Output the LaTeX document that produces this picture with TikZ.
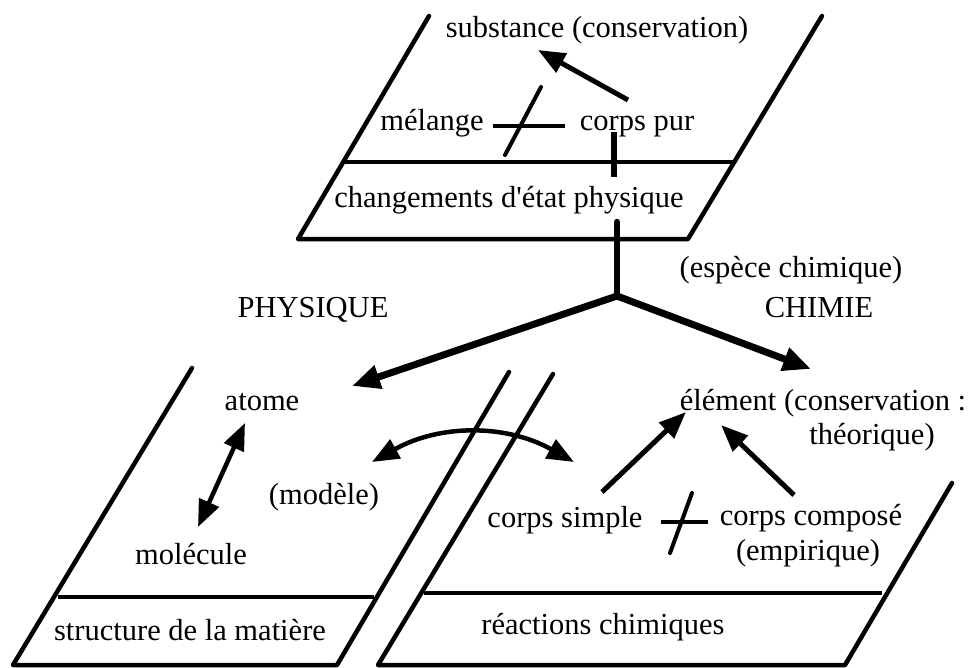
\documentclass[tikz,border=0pt]{standalone}
\usepackage{fontspec}
\newfontfamily\tfont{Liberation Serif}
\usetikzlibrary{arrows.meta}
\begin{document}
\begin{tikzpicture}[x=1pt,y=-1pt,
  txt/.style={font=\tfont\fontsize{30.5}{36}\selectfont, inner sep=0pt, text height=21pt, text depth=7pt, anchor=center},
  panel/.style={line width=4.5pt, line cap=round, line join=round},
  sep/.style={line width=3.5pt},
  big/.style={line width=7pt, line cap=round, -{Triangle[length=28pt,width=23pt]}},
  arr/.style={line width=5pt, -{Triangle[length=27pt,width=21pt]}},
  darr/.style={line width=4.5pt, {Triangle[length=27pt,width=21pt]}-{Triangle[length=27pt,width=21pt]}},
  link/.style={line width=4pt},
  stem/.style={line width=6.5pt, line cap=round},
]
\fill[white] (0,0) rectangle (975,667);
\useasboundingbox (0,0) rectangle (975,667);

% panels
\draw[panel] (429,16) -- (298,239) -- (688,239) -- (822,16);
\draw[sep] (343,162) -- (734,162);
\draw[panel] (192,368) -- (13,665) -- (337,665) -- (509,372);
\draw[sep] (58,597) -- (374,597);
\draw[panel] (553,374) -- (378,665) -- (845,665) -- (952,483);
\draw[sep] (424,593) -- (882,593);

% texts
\node[txt] (subs) at (597,30) {substance (conservation)};
\node[txt] (mel) at (432,123) {mélange};
\node[txt] (cpur) at (637,123) {corps pur};
\node[txt] (chgt) at (509,200) {changements d'état physique};
\node[txt] (phys) at (313,310) {PHYSIQUE};
\node[txt] (esp) at (791,270) {(espèce chimique)};
\node[txt] (chim) at (819,310) {CHIMIE};
\node[txt] (elem) at (823,403) {élément (conservation :};
\node[txt] (theo) at (872,437) {théorique)};
\node[txt] (atome) at (262,403) {atome};
\node[txt] (mod) at (324,497) {(modèle)};
\node[txt] (mol) at (191,557) {molécule};
\node[txt] (struct) at (190,633) {structure de la matière};
\node[txt] (csimp) at (565,520) {corps simple};
\node[txt] (ccomp) at (811,518) {corps composé};
\node[txt] (emp) at (808,553) {(empirique)};
\node[txt] (reac) at (603,627) {réactions chimiques};

% connector end points
\coordinate (cpurA) at (628,100);
\coordinate (subsA) at (538,50);
\coordinate (melE) at (493,126);
\coordinate (cpurW) at (565,126);
\coordinate (melX1) at (541,87);
\coordinate (melX2) at (505,155);
\coordinate (cpurS) at (614,132);
\coordinate (chgtN) at (614,177);
\coordinate (chgtS) at (617,222);
\coordinate (branch) at (617,296);
\coordinate (atomeT) at (352,386);
\coordinate (elemT) at (811,369);
\coordinate (atomeS) at (245,423);
\coordinate (molN) at (198,527);
\coordinate (modE) at (372,462);
\coordinate (csimpW) at (574,462);
\coordinate (csimpA) at (602,492);
\coordinate (elemA) at (686,412);
\coordinate (ccompA) at (794,495);
\coordinate (elemB) at (721,425);
\coordinate (csimpE) at (661,522);
\coordinate (ccompW) at (708,522);
\coordinate (csX1) at (692,493);
\coordinate (csX2) at (670,553);

% connectors
\draw[arr] (cpurA) -- (subsA);
\draw[link] (melE) -- (cpurW);
\draw[link, line cap=round] (melX1) -- (melX2);
\draw[stem, line cap=butt] (cpurS) -- (chgtN);
\draw[stem] (chgtS) -- (branch);
\draw[big] (branch) -- (atomeT);
\draw[big] (branch) -- (elemT);
\draw[darr] (atomeS) -- (molN);
\draw[darr] (modE) .. controls (440,424) and (506,424) .. (csimpW);
\draw[arr] (csimpA) -- (elemA);
\draw[arr] (ccompA) -- (elemB);
\draw[link] (csimpE) -- (ccompW);
\draw[link, line cap=round] (csX1) -- (csX2);
\end{tikzpicture}
\end{document}
